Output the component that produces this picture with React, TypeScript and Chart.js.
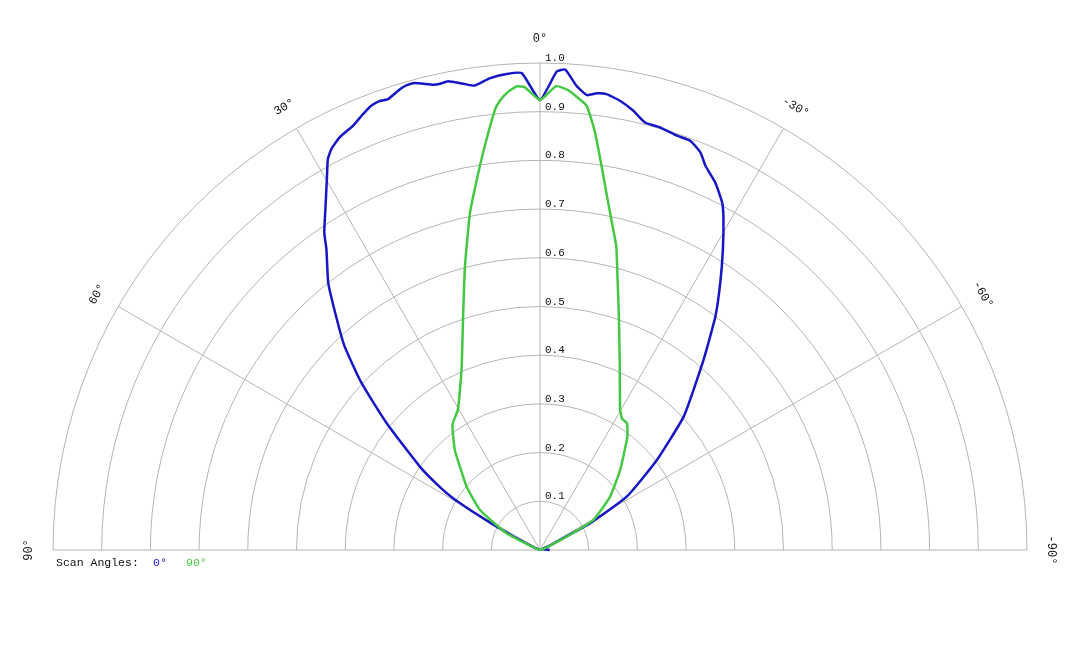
import React, { useEffect, useRef } from "react";
import { Chart, registerables } from "chart.js";

Chart.register(...registerables);

// Polar photometric data: [angle in degrees (positive = left), relative intensity]
const blueScan: [number, number][] = [
  [90, 0], [70, 0.005], [65, 0.02], [63, 0.06], [61.5, 0.11], [60.5, 0.15], [59.2, 0.208], [57.5, 0.25],
  [55.2, 0.301], [50.4, 0.409], [46.9, 0.502], [43.8, 0.58], [41.1, 0.637], [38.4, 0.7], [35.4, 0.757],
  [34.2, 0.788], [32.2, 0.827], [29.9, 0.878], [28.5, 0.913], [27.5, 0.928], [25.9, 0.942], [23.8, 0.952],
  [22.1, 0.966], [20.8, 0.976], [19.6, 0.979], [18.6, 0.977], [16.9, 0.989], [15.9, 0.993], [15, 0.993],
  [12.9, 0.98], [12.1, 0.979], [11.1, 0.981], [9, 0.968], [8, 0.963], [6.1, 0.974], [4, 0.98], [2.2, 0.98],
  [0, 0.924], [-2, 0.983], [-3, 0.988], [-4.5, 0.956], [-5.9, 0.939], [-7.1, 0.945], [-8.3, 0.946],
  [-10.1, 0.937], [-12, 0.922], [-13.8, 0.904], [-15.9, 0.902], [-18.3, 0.896], [-20.2, 0.895],
  [-22, 0.88], [-23.3, 0.859], [-25.5, 0.836], [-27.7, 0.805], [-29, 0.777], [-31.3, 0.723], [-34, 0.662],
  [-36.9, 0.6], [-40.7, 0.515], [-47.1, 0.403], [-52.4, 0.303], [-58.4, 0.209], [-61.9, 0.117],
  [-63.4, 0.046], [-66, 0.02], [-70, 0.005], [-90, 0.02],
];

const greenScan: [number, number][] = [
  [90, 0], [70, 0.01], [63.4, 0.077], [56.3, 0.148], [49.2, 0.199], [43.8, 0.238], [40.4, 0.27],
  [34.9, 0.314], [30.3, 0.334], [23.5, 0.404], [17.7, 0.518], [14.8, 0.603], [11.7, 0.708], [8.9, 0.798],
  [7.4, 0.851], [5.8, 0.91], [5.1, 0.926], [4, 0.943], [2.9, 0.953], [1.9, 0.951], [0, 0.924],
  [-2, 0.953], [-3.5, 0.946], [-4.5, 0.935], [-6, 0.917], [-7.5, 0.865], [-9.1, 0.799], [-10.7, 0.74],
  [-12.4, 0.688], [-14.1, 0.643], [-16, 0.578], [-18.5, 0.51], [-22.7, 0.424], [-29.7, 0.332],
  [-32, 0.318], [-34.4, 0.316], [-37.6, 0.294], [-45, 0.233], [-52.7, 0.181], [-60.6, 0.126],
  [-63.5, 0.061], [-70, 0.01], [-90, 0],
];

const seriesLabels = ["0°", "90°"];
const seriesColors = ["#1616c4", "#44c844"];
const ringValues = [0.1, 0.2, 0.3, 0.4, 0.5, 0.6, 0.7, 0.8, 0.9, 1.0];
const ringLabels = ["0.1", "0.2", "0.3", "0.4", "0.5", "0.6", "0.7", "0.8", "0.9", "1.0"];
const spokeAngles = [60, 30, 0, -30, -60];
const angleLabelAngles = [90, 60, 30, 0, -30, -60, -90];
const angleLabels = ["90°", "60°", "30°", "0°", "-30°", "-60°", "-90°"];
const legendTitle = "Scan Angles:";

const W = 1080;
const H = 648;
const CX = 540;
const CY = 550;
const R = 487;

const toXY = (pts: [number, number][]) =>
  pts.map(([a, r]) => {
    const t = (a * Math.PI) / 180;
    return { x: -r * Math.sin(t), y: r * Math.cos(t) };
  });

const MONO = '"Liberation Mono", "Courier New", monospace';

const polarGrid = {
  id: "polarGrid",
  beforeDatasetsDraw(chart: any) {
    const ctx = chart.ctx as CanvasRenderingContext2D;
    const xs = chart.scales.x;
    const ys = chart.scales.y;
    const px = (x: number) => xs.getPixelForValue(x);
    const py = (y: number) => ys.getPixelForValue(y);
    const cx = px(0);
    const cy = py(0);
    const unit = px(1) - cx;
    ctx.save();
    ctx.strokeStyle = "#b4b4b4";
    ctx.lineWidth = 1;
    ringValues.forEach((v) => {
      ctx.beginPath();
      ctx.arc(cx, cy, v * unit, Math.PI, 2 * Math.PI);
      ctx.stroke();
    });
    // baseline (±90°)
    ctx.beginPath();
    ctx.moveTo(px(-1), cy);
    ctx.lineTo(px(1), cy);
    ctx.stroke();
    spokeAngles.forEach((a) => {
      const t = (a * Math.PI) / 180;
      ctx.beginPath();
      ctx.moveTo(cx, cy);
      ctx.lineTo(px(-Math.sin(t)), py(Math.cos(t)));
      ctx.stroke();
    });
    // ring tick labels
    ctx.fillStyle = "#111";
    ctx.font = `11px ${MONO}`;
    ctx.textAlign = "left";
    ctx.textBaseline = "alphabetic";
    ringValues.forEach((v, i) => {
      ctx.fillText(ringLabels[i], cx + 5, py(v) - 2);
    });
    // angle labels
    ctx.font = `12px ${MONO}`;
    ctx.textAlign = "center";
    ctx.textBaseline = "middle";
    angleLabelAngles.forEach((a, i) => {
      const t = (a * Math.PI) / 180;
      const lx = px(-1.05 * Math.sin(t));
      const ly = py(1.05 * Math.cos(t));
      ctx.save();
      ctx.translate(lx, ly);
      ctx.rotate(-t);
      ctx.fillText(angleLabels[i], 0, 0);
      ctx.restore();
    });
    // legend
    ctx.textAlign = "left";
    ctx.textBaseline = "middle";
    ctx.font = `11.5px ${MONO}`;
    ctx.fillStyle = "#111";
    ctx.fillText(legendTitle, 56, 563);
    let lx = 153;
    chart.data.datasets.forEach((ds: any) => {
      ctx.fillStyle = ds.borderColor;
      ctx.fillText(ds.label, lx, 563);
      lx += 33;
    });
    ctx.restore();
  },
};

export default function App() {
  const ref = useRef<HTMLCanvasElement | null>(null);
  useEffect(() => {
    if (!ref.current) return;
    const chart = new Chart(ref.current, {
      type: "scatter",
      data: {
        datasets: [blueScan, greenScan].map((s, i) => ({
          label: seriesLabels[i],
          data: toXY(s),
          showLine: true,
          borderColor: seriesColors[i],
          backgroundColor: seriesColors[i],
          borderWidth: 2.5,
          pointRadius: 0,
          tension: 0.15,
          order: 1 - i,
        })),
      },
      options: {
        animation: false,
        responsive: false,
        maintainAspectRatio: false,
        layout: { padding: 0 },
        plugins: { legend: { display: false }, tooltip: { enabled: false } },
        scales: {
          x: { type: "linear", display: false, min: -CX / R, max: (W - CX) / R },
          y: { type: "linear", display: false, min: -(H - CY) / R, max: CY / R },
        },
      },
      plugins: [polarGrid],
    });
    return () => chart.destroy();
  }, []);
  return (
    <div style={{ position: "absolute", left: 0, top: 0, width: W, height: H, background: "#fff" }}>
      <canvas ref={ref} width={W} height={H} style={{ width: W, height: H }} />
    </div>
  );
}
